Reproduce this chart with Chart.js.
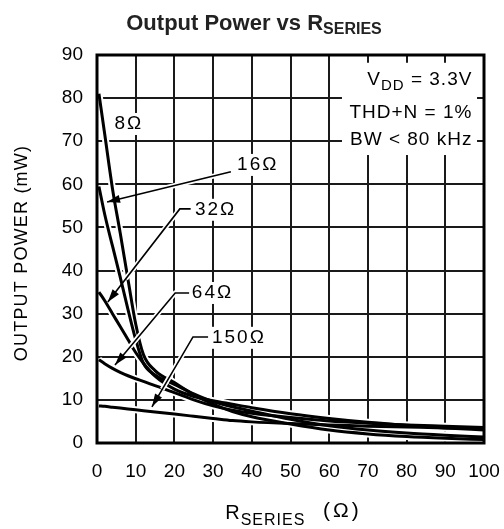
<!DOCTYPE html>
<html>
<head>
<meta charset="utf-8">
<script src="https://cdn.jsdelivr.net/npm/chart.js@4.4.0/dist/chart.umd.min.js"></script>
<style>
html, body { margin: 0; padding: 0; background: #fff; }
</style>
</head>
<body>
<canvas id="chart" width="504" height="529"></canvas>
<script>
// Output power vs series resistance, one curve per load

const rSeries = [0.5, 2, 4, 6, 8, 10, 12, 15, 20, 25, 30, 35, 40, 50, 60, 70, 80, 90, 100];

const p8   = [81, 71.6, 59, 48.7, 38, 27.6, 20.5, 16.8, 14.0, 11.2, 9.0, 7.3, 6.1, 4.4, 3.0, 2.1, 1.5, 1.1, 0.8];
const p16  = [59.5, 53, 45.7, 38.5, 31, 24, 18.5, 15.8, 13.6, 11.4, 9.6, 8.4, 7.4, 5.5, 4.0, 3.0, 2.3, 1.8, 1.4];
const p32  = [35, 33, 30, 27, 24, 21, 18.5, 15.5, 12.5, 10.8, 9.8, 9.0, 8.2, 6.8, 5.7, 4.8, 4.1, 3.5, 3.0];
const p64  = [19.3, 18.4, 17.3, 16.4, 15.6, 14.9, 14.3, 13.3, 11.7, 10.0, 8.6, 7.6, 6.9, 5.9, 5.1, 4.6, 4.2, 3.9, 3.6];
const p150 = [8.6, 8.5, 8.3, 8.1, 7.9, 7.7, 7.5, 7.2, 6.7, 6.2, 5.7, 5.2, 4.9, 4.5, 4.2, 3.9, 3.7, 3.5, 3.4];

const curves = [p8, p16, p32, p64, p150];
const loadNames = ['8Ω', '16Ω', '32Ω', '64Ω', '150Ω'];

const xTicks = [0, 10, 20, 30, 40, 50, 60, 70, 80, 90, 100];
const yTicks = [0, 10, 20, 30, 40, 50, 60, 70, 80, 90];

const FONT = '"Liberation Sans", Arial, sans-serif';

// label callouts, in data units (R, mW)
const callouts = [
    { text: '8Ω',   at: [4.5, 74],   path: [] },
    { text: '16Ω',  at: [36.2, 64.5], path: [[34.6, 62.9], [2.6, 55.9]] },
    { text: '32Ω',  at: [25.3, 54.1], path: [[24.2, 54.3], [21.4, 54.3], [2.8, 32.7]] },
    { text: '64Ω',  at: [24.5, 34.8], path: [[23.8, 34.8], [20.2, 34.8], [4.65, 18.1]] },
    { text: '150Ω', at: [29.7, 24.4], path: [[28.7, 24.6], [24.8, 24.6], [14.2, 8.4]] }
];

function toPoints(values) {
    return rSeries.map((r, i) => ({ x: r, y: values[i] }));
}

const datasets = [];
curves.forEach((values, i) => {
    datasets.push({
        label: loadNames[i],
        data: toPoints(values),
        borderColor: '#000',
        borderWidth: 3,
        pointRadius: 0,
        cubicInterpolationMode: 'monotone',
        order: 1
    });
});
// white halos under the curves, they break the grid like the original
curves.forEach((values, i) => {
    datasets.push({
        label: loadNames[i] + ' halo',
        data: toPoints(values),
        borderColor: '#fff',
        borderWidth: 7,
        pointRadius: 0,
        cubicInterpolationMode: 'monotone',
        order: 2
    });
});

function textWidth(ctx, parts) {
    let w = 0;
    parts.forEach(p => {
        ctx.font = p.font;
        ctx.letterSpacing = (p.ls || 0) + 'px';
        w += ctx.measureText(p.t).width;
    });
    return w;
}

function drawParts(ctx, parts, x, y) {
    let cx = x;
    parts.forEach(p => {
        ctx.font = p.font;
        ctx.letterSpacing = (p.ls || 0) + 'px';
        ctx.fillText(p.t, cx, y + (p.dy || 0));
        cx += ctx.measureText(p.t).width;
    });
    ctx.letterSpacing = '0px';
}

function arrowLine(ctx, pts, halo) {
    if (pts.length < 2) return;
    ctx.lineCap = 'butt';
    ctx.lineJoin = 'miter';
    ctx.beginPath();
    ctx.moveTo(pts[0][0], pts[0][1]);
    for (let i = 1; i < pts.length; i++) ctx.lineTo(pts[i][0], pts[i][1]);
    if (halo) {
        ctx.strokeStyle = '#fff';
        ctx.lineWidth = 5;
        ctx.stroke();
        return;
    }
    ctx.strokeStyle = '#000';
    ctx.lineWidth = 1.6;
    ctx.stroke();
    const [x0, y0] = pts[pts.length - 2];
    const [x1, y1] = pts[pts.length - 1];
    const a = Math.atan2(y1 - y0, x1 - x0);
    const len = 13, hw = 4;
    ctx.beginPath();
    ctx.moveTo(x1, y1);
    ctx.lineTo(x1 - len * Math.cos(a) + hw * Math.sin(a), y1 - len * Math.sin(a) - hw * Math.cos(a));
    ctx.lineTo(x1 - len * Math.cos(a) - hw * Math.sin(a), y1 - len * Math.sin(a) + hw * Math.cos(a));
    ctx.closePath();
    ctx.fillStyle = '#000';
    ctx.fill();
}

const decorations = {
    id: 'decorations',
    afterDatasetsDraw(chart) {
        const ctx = chart.ctx;
        const xs = chart.scales.x, ys = chart.scales.y;
        const area = chart.chartArea;
        const px = p => [xs.getPixelForValue(p[0]), ys.getPixelForValue(p[1])];

        ctx.save();
        ctx.beginPath();
        ctx.rect(area.left, area.top, area.right - area.left, area.bottom - area.top);
        ctx.clip();

        // condition box, top right
        const boxFont = '19px ' + FONT;
        const lines = [
            { parts: [{ t: 'V', font: boxFont, ls: 1 }, { t: 'DD', font: '15px ' + FONT, dy: 6, ls: 1 }, { t: ' = 3.3V', font: boxFont, ls: 1 }], v: 84.2 },
            { parts: [{ t: 'THD+N = 1%', font: boxFont, ls: 1 }], v: 76.6 },
            { parts: [{ t: 'BW < 80 kHz', font: boxFont, ls: 1 }], v: 70.3 }
        ];
        const rightX = xs.getPixelForValue(97);
        ctx.fillStyle = '#fff';
        ctx.fillRect(xs.getPixelForValue(63.3), ys.getPixelForValue(88.2),
            xs.getPixelForValue(98.2) - xs.getPixelForValue(63.3),
            ys.getPixelForValue(66.8) - ys.getPixelForValue(88.2));
        ctx.fillStyle = '#000';
        ctx.textBaseline = 'middle';
        ctx.textAlign = 'left';
        lines.forEach(l => {
            const w = textWidth(ctx, l.parts);
            drawParts(ctx, l.parts, rightX - w, ys.getPixelForValue(l.v));
        });

        // callouts: white halo along the leader first, then label and arrow
        const labFont = '19px ' + FONT;
        callouts.forEach(c => {
            const pts = c.path.map(px);
            if (pts.length < 2) return;
            const last = pts[pts.length - 1], prev = pts[pts.length - 2];
            const cut = [last[0] + (prev[0] - last[0]) * 0.25, last[1] + (prev[1] - last[1]) * 0.25];
            arrowLine(ctx, pts.slice(0, -1).concat([cut]), true);
        });
        callouts.forEach(c => {
            const [tx, ty] = px(c.at);
            const parts = [{ t: c.text, font: labFont, ls: 2 }];
            const w = textWidth(ctx, parts);
            ctx.fillStyle = '#fff';
            ctx.fillRect(tx - 3, ty - 11, w + 4, 22);
            ctx.fillStyle = '#000';
            drawParts(ctx, parts, tx, ty);
            arrowLine(ctx, c.path.map(px), false);
        });
        ctx.restore();

        // plot frame
        ctx.save();
        ctx.strokeStyle = '#000';
        ctx.lineWidth = 3;
        ctx.strokeRect(area.left, area.top, area.right - area.left, area.bottom - area.top);
        ctx.restore();
    },
    afterDraw(chart) {
        const ctx = chart.ctx;
        const area = chart.chartArea;
        ctx.save();
        ctx.fillStyle = '#222';
        ctx.textBaseline = 'alphabetic';
        ctx.textAlign = 'left';

        // chart title
        const title = [
            { t: 'Output Power vs R', font: 'bold 22px ' + FONT },
            { t: 'SERIES', font: 'bold 16px ' + FONT, dy: 4 }
        ];
        const tw = textWidth(ctx, title);
        drawParts(ctx, title, 254 - tw / 2, 30);

        // x axis title
        ctx.fillStyle = '#000';
        const xTitle = [
            { t: 'R', font: '20px ' + FONT, ls: 1 },
            { t: 'SERIES', font: '16px ' + FONT, dy: 6, ls: 1 },
            { t: '  (Ω)', font: '21px ' + FONT, dy: -2, ls: 3 }
        ];
        const xw = textWidth(ctx, xTitle);
        drawParts(ctx, xTitle, (area.left + area.right) / 2 + 3 - xw / 2, 519);

        // y axis title
        ctx.translate(27, (area.top + area.bottom) / 2 + 4);
        ctx.rotate(-Math.PI / 2);
        const yTitle = [{ t: 'OUTPUT POWER (mW)', font: '18px ' + FONT, ls: 1.2 }];
        const yw = textWidth(ctx, yTitle);
        drawParts(ctx, yTitle, -yw / 2, 0);
        ctx.restore();
    }
};

new Chart(document.getElementById('chart'), {
    type: 'line',
    data: { datasets: datasets },
    options: {
        responsive: false,
        animation: false,
        devicePixelRatio: 1,
        layout: { padding: { top: 55, right: 20, left: 0, bottom: 0 } },
        plugins: {
            legend: { display: false },
            tooltip: { enabled: false },
            title: { display: false }
        },
        elements: { line: { tension: 0 } },
        scales: {
            x: {
                type: 'linear',
                min: 0,
                max: 100,
                // fixed height; tick padding must not widen the side margins
                afterFit: s => { s.height = 86; s.paddingLeft = 0; s.paddingRight = 0; },
                afterBuildTicks: s => { s.ticks = xTicks.map(v => ({ value: v })); },
                ticks: { color: '#000', padding: 17, font: { family: FONT, size: 19 }, maxRotation: 0, autoSkip: false },
                grid: { color: '#1a1a1a', lineWidth: 2, drawTicks: false },
                border: { display: false }
            },
            y: {
                type: 'linear',
                min: 0,
                max: 90,
                afterFit: s => { s.width = 97; s.paddingTop = 0; s.paddingBottom = 0; },
                afterBuildTicks: s => { s.ticks = yTicks.map(v => ({ value: v })); },
                ticks: { color: '#000', padding: 14, font: { family: FONT, size: 19 }, autoSkip: false },
                grid: { color: '#1a1a1a', lineWidth: 2, drawTicks: false },
                border: { display: false }
            }
        }
    },
    plugins: [decorations]
});
</script>
</body>
</html>
